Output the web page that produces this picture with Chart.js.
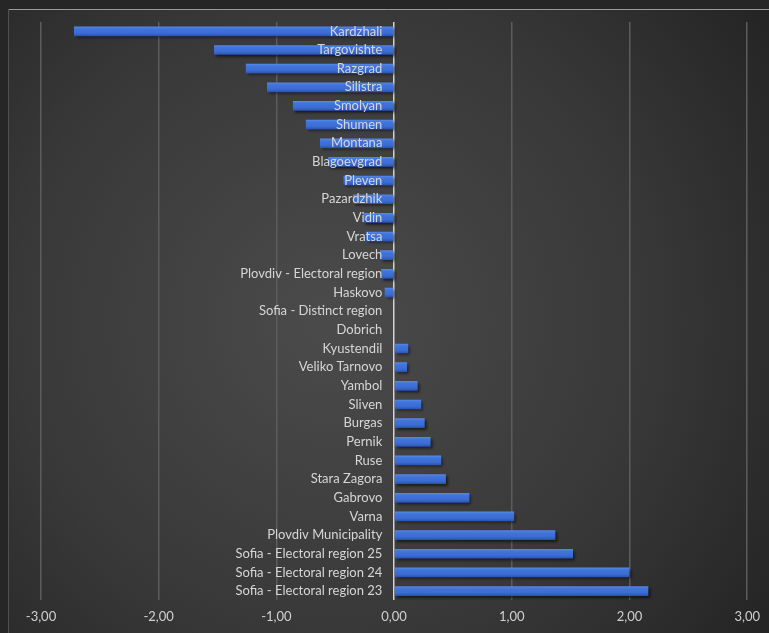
<!DOCTYPE html>
<html>
<head>
<meta charset="utf-8">
<script src="https://cdn.jsdelivr.net/npm/chart.js@4/dist/chart.umd.min.js"></script>
<style>
  html, body { margin: 0; padding: 0; background: #262626; }
  #wrap { width: 769px; height: 633px; position: relative; }
</style>
</head>
<body>
<div id="wrap"><canvas id="regionChart"></canvas></div>
<script>
// ---- datos ----
const regions = [
    'Kardzhali', 'Targovishte', 'Razgrad', 'Silistra', 'Smolyan', 'Shumen', 'Montana',
    'Blagoevgrad', 'Pleven', 'Pazardzhik', 'Vidin', 'Vratsa', 'Lovech',
    'Plovdiv - Electoral region', 'Haskovo', 'Sofia - Distinct region', 'Dobrich',
    'Kyustendil', 'Veliko Tarnovo', 'Yambol', 'Sliven', 'Burgas', 'Pernik', 'Ruse',
    'Stara Zagora', 'Gabrovo', 'Varna', 'Plovdiv Municipality',
    'Sofia - Electoral region 25', 'Sofia - Electoral region 24', 'Sofia - Electoral region 23'
];
const changeValues = [
    -2.72, -1.53, -1.26, -1.08, -0.86, -0.75, -0.63,
    -0.56, -0.43, -0.35, -0.26, -0.24, -0.12,
    -0.11, -0.08, 0, 0,
    0.12, 0.11, 0.20, 0.23, 0.26, 0.31, 0.40,
    0.44, 0.64, 1.02, 1.37,
    1.52, 2.00, 2.16
];
const xTicks = [-3, -2, -1, 0, 1, 2, 3];

// fondo oscuro con degradado radial
const bgPlugin = {
    id: 'darkBg',
    beforeDraw(chart) {
        const { ctx, width, height } = chart;
        ctx.save();
        ctx.fillStyle = '#262626';
        ctx.fillRect(0, 0, width, height);
        const g = ctx.createRadialGradient(330, 320, 20, 330, 320, 560);
        g.addColorStop(0, '#4a4a4a');
        g.addColorStop(0.55, '#383838');
        g.addColorStop(1, '#222222');
        ctx.fillStyle = g;
        ctx.fillRect(8, 9, width - 8, height - 9);
        ctx.strokeStyle = '#9a9a9a';
        ctx.lineWidth = 1;
        ctx.beginPath();
        ctx.moveTo(8, 9.5);
        ctx.lineTo(width, 9.5);
        ctx.stroke();
        ctx.strokeStyle = '#505050';
        ctx.beginPath();
        ctx.moveTo(8.5, 9);
        ctx.lineTo(8.5, height);
        ctx.stroke();
        ctx.restore();
    },
    beforeDatasetsDraw(chart) {
        const ctx = chart.ctx;
        ctx.save();
        ctx.shadowColor = 'rgba(0,0,0,0.6)';
        ctx.shadowOffsetX = 2;
        ctx.shadowOffsetY = 2;
        ctx.shadowBlur = 3;
    },
    afterDatasetsDraw(chart) {
        chart.ctx.restore();
    }
};

// degradado vertical por barra
function barFill(context) {
    const chart = context.chart;
    const yScale = chart.scales.y;
    if (!yScale || context.dataIndex === undefined) return '#3b6cd4';
    const yc = yScale.getPixelForValue(context.dataIndex);
    if (!isFinite(yc)) return '#3b6cd4';
    const g = chart.ctx.createLinearGradient(0, yc - 5, 0, yc + 5);
    g.addColorStop(0, '#5a8ae6');
    g.addColorStop(0.25, '#4175dc');
    g.addColorStop(0.7, '#3a6bd2');
    g.addColorStop(1, '#2a4fa8');
    return g;
}

new Chart(document.getElementById('regionChart'), {
    type: 'bar',
    data: {
        labels: regions,
        datasets: [{
            data: changeValues,
            backgroundColor: barFill,
            borderWidth: 0,
            barPercentage: 0.52,
            categoryPercentage: 1
        }]
    },
    options: {
        indexAxis: 'y',
        responsive: true,
        maintainAspectRatio: false,
        animation: false,
        layout: { padding: { left: 41, right: 20, top: 22, bottom: -1 } },
        plugins: {
            legend: { display: false },
            tooltip: { enabled: false }
        },
        scales: {
            x: {
                min: -3,
                max: 3,
                afterBuildTicks: axis => { axis.ticks = xTicks.map(v => ({ value: v })); },
                grid: {
                    color: ctx => ctx.tick && ctx.tick.value === 0 ? '#d4d4d4' : '#5c5c5c',
                    lineWidth: 1.5,
                    drawTicks: false
                },
                border: { display: false },
                ticks: {
                    color: '#d0d0d0',
                    padding: 9,
                    font: { family: 'Lato', size: 13 },
                    callback: v => v.toFixed(2).replace('.', ',')
                }
            },
            y: {
                // etiquetas pegadas al eje cero, un poco a la izquierda
                position: { x: -0.1 },
                grid: { display: false, drawTicks: false },
                border: { display: false },
                ticks: {
                    z: 1,
                    autoSkip: false,
                    color: '#d6d6d6',
                    padding: 0,
                    font: { family: 'Lato', size: 13 }
                }
            }
        }
    },
    plugins: [bgPlugin]
});
</script>
</body>
</html>
